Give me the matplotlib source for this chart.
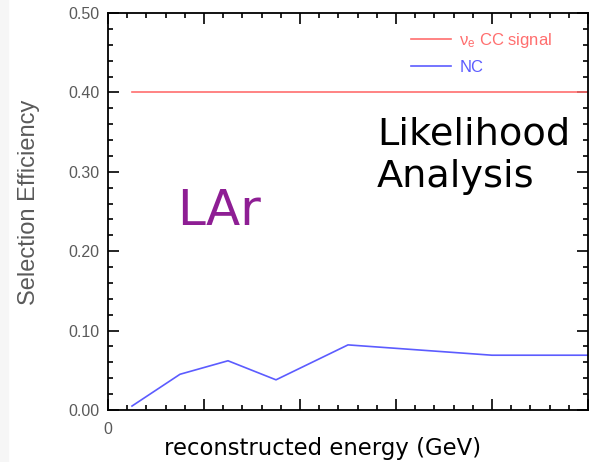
import matplotlib
matplotlib.use("Agg")
import matplotlib.pyplot as plt
from matplotlib.ticker import MultipleLocator
from matplotlib.patches import Rectangle

# energy bin centres (GeV) and selection efficiencies
energy = [0.25, 0.75, 1.25, 1.75, 2.5, 4.0, 5.0]
signal_eff = [0.40, 0.40, 0.40, 0.40, 0.40, 0.40, 0.40]
nc_eff = [0.005, 0.045, 0.062, 0.038, 0.082, 0.069, 0.069]

x_ticks = [0, 1, 2, 3, 4, 5]
x_tick_labels = ["0", "", "", "", "", ""]
y_ticks = [0.0, 0.1, 0.2, 0.3, 0.4, 0.5]
y_tick_labels = ["0.00", "0.10", "0.20", "0.30", "0.40", "0.50"]

grey = "#5a5a5a"
red = "#ff6e6e"
blue = "#5c5cff"

fig = plt.figure(figsize=(5.9, 4.62), dpi=100)
fig.patches.append(Rectangle((0, 0), 8 / 590, 1, transform=fig.transFigure,
                             color="#f6f6f6", zorder=0))
ax = fig.add_axes([108 / 590, 1 - 410 / 462, 480 / 590, 397 / 462])

ax.plot(energy, signal_eff, color=red, lw=1.2,
        label=r"$\mathregular{\nu_e}$ CC signal")
ax.plot(energy, nc_eff, color=blue, lw=1.2, label="NC")

ax.set_xlim(0, 4.95)
ax.set_ylim(0, 0.5)
ax.set_xticks(x_ticks)
ax.set_xticklabels(x_tick_labels)
ax.set_yticks(y_ticks)
ax.set_yticklabels(y_tick_labels)
ax.xaxis.set_minor_locator(MultipleLocator(0.2))
ax.yaxis.set_minor_locator(MultipleLocator(0.02))
ax.tick_params(which="both", direction="in", top=True, right=True,
               colors="black", labelcolor=grey, width=1.2)
ax.tick_params(which="major", length=8, labelsize=11.5, pad=6)
ax.tick_params(axis="x", which="major", pad=9)
ax.tick_params(which="minor", length=3.6)
for lab in ax.get_xticklabels() + ax.get_yticklabels():
    lab.set_family("Liberation Sans")
for sp in ax.spines.values():
    sp.set_linewidth(1.3)

ax.set_xlabel("reconstructed energy (GeV)", fontsize=16.4, color="black")
ax.xaxis.set_label_coords(0.448, -0.068)
ax.set_ylabel("Selection Efficiency", fontsize=17, color=grey,
              family="Liberation Sans")
ax.yaxis.set_label_coords(-0.142, 0.524)

leg = ax.legend(loc="upper left", bbox_to_anchor=(0.6, 0.992), frameon=False,
                handlelength=2.4, handletextpad=0.5,
                labelspacing=0.6, labelcolor="linecolor",
                prop={"family": "Liberation Sans", "size": 12})

ax.text(0.145, 0.466, "LAr", transform=ax.transAxes, fontsize=36,
        color="#8e1e94", va="baseline")
ax.text(0.56, 0.562, "Likelihood\nAnalysis", transform=ax.transAxes,
        fontsize=27.5, color="black", va="baseline", linespacing=1.24)

fig.savefig("out.png", dpi=100)
